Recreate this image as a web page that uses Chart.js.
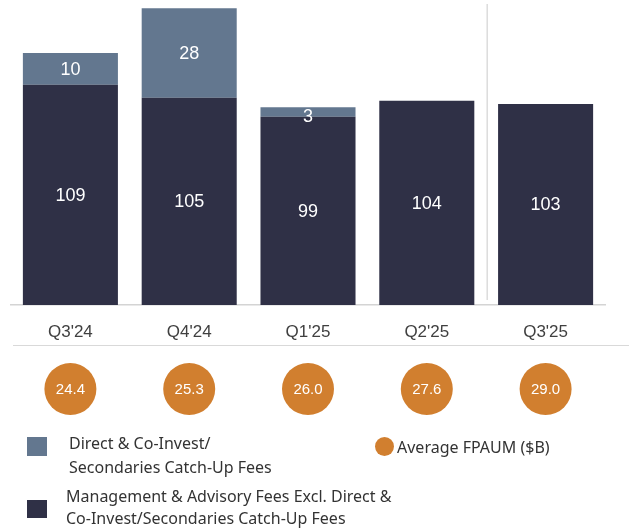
<!DOCTYPE html>
<html>
<head>
<meta charset="utf-8">
<title>Fees by quarter</title>
<script src="https://cdn.jsdelivr.net/npm/chart.js@4.4.1/dist/chart.umd.min.js"></script>
<style>
  html, body { margin: 0; padding: 0; background: #fff; }
  #wrap { position: relative; width: 629px; height: 531px; }
  #barChart { display: block; }
  .leg { position: absolute; font-family: "Noto Sans", sans-serif; font-size: 16px; color: #333; white-space: nowrap; }
  .sw { position: absolute; width: 20px; height: 19px; }
</style>
</head>
<body>
<div id="wrap">
  <canvas id="barChart" width="629" height="531"></canvas>
  <div class="sw" style="left:27px;top:437px;background:#63778f"></div>
  <div class="leg" style="left:69px;top:431px;line-height:24px">Direct &amp; Co-Invest/<br>Secondaries Catch-Up Fees</div>
  <div class="sw" style="left:375px;top:437px;width:19px;border-radius:50%;background:#d17f2f"></div>
  <div class="leg" style="left:397px;top:435px;line-height:24px">Average FPAUM ($B)</div>
  <div class="sw" style="left:27px;top:500px;height:18px;background:#2f3046"></div>
  <div class="leg" style="left:66px;top:485px;line-height:22px">Management &amp; Advisory Fees Excl. Direct &amp;<br>Co-Invest/Secondaries Catch-Up Fees</div>
</div>
<script>
/* data */
const quarters = ["Q3'24", "Q4'24", "Q1'25", "Q2'25", "Q3'25"];
const mgmtFees = [109, 105, 99, 104, 103];
const catchUpFees = [10, 28, 3, null, null];
const avgFpaum = [24.4, 25.3, 26.0, 27.6, 29.0];

const DARK = "#2f3046";
const LIGHT = "#63778f";
const ORANGE = "#d17f2f";

/* white numbers in the middle of each bar segment */
const valueLabels = {
    id: 'valueLabels',
    afterDatasetsDraw(chart) {
        const ctx = chart.ctx;
        const bottom = chart.chartArea.bottom;
        ctx.save();
        ctx.font = '18px "Liberation Sans", Arial, sans-serif';
        ctx.fillStyle = '#fff';
        ctx.textAlign = 'center';
        ctx.textBaseline = 'middle';
        chart.data.datasets.forEach((ds, di) => {
            chart.getDatasetMeta(di).data.forEach((bar, i) => {
                const v = ds.data[i];
                if (v == null) return;
                const p = bar.getProps(['x', 'y', 'base'], true);
                const base = Math.min(p.base, bottom);
                // thin segments: the number sits on the lower edge
                const y = Math.max((p.y + base) / 2 + 1, p.y + 10);
                ctx.fillText(v, p.x, y);
            });
        });
        ctx.restore();
    }
};

/* divider before Q3'25, line under labels and the FPAUM circles */
const extras = {
    id: 'extras',
    afterDraw(chart) {
        const ctx = chart.ctx;
        const x = chart.scales.x;
        ctx.save();

        const divX = (x.getPixelForValue(3) + x.getPixelForValue(4)) / 2 + 1;
        ctx.strokeStyle = '#dcdcdc';
        ctx.lineWidth = 1.5;
        ctx.beginPath();
        ctx.moveTo(divX, 4);
        ctx.lineTo(divX, 300);
        ctx.stroke();

        ctx.strokeStyle = '#d9d9d9';
        ctx.lineWidth = 1;
        ctx.beginPath();
        ctx.moveTo(13, 345.5);
        ctx.lineTo(629, 345.5);
        ctx.stroke();

        ctx.font = '15px "Liberation Sans", Arial, sans-serif';
        ctx.textAlign = 'center';
        ctx.textBaseline = 'middle';
        avgFpaum.forEach((v, i) => {
            const cx = x.getPixelForValue(i);
            ctx.fillStyle = ORANGE;
            ctx.beginPath();
            ctx.arc(cx, 389, 26, 0, Math.PI * 2);
            ctx.fill();
            ctx.fillStyle = '#fff';
            ctx.fillText(v.toFixed(1), cx, 390);
        });
        ctx.restore();
    }
};

const CHART = document.getElementById("barChart");
let barChart = new Chart(CHART, {
    type: 'bar',
    data: {
        labels: quarters,
        datasets: [
            {
                label: "Management & Advisory Fees Excl. Direct & Co-Invest/Secondaries Catch-Up Fees",
                data: mgmtFees,
                backgroundColor: DARK,
                borderWidth: 0,
                clip: 0,
                barPercentage: 0.8,
                categoryPercentage: 1
            },
            {
                label: "Direct & Co-Invest/Secondaries Catch-Up Fees",
                data: catchUpFees,
                backgroundColor: LIGHT,
                borderWidth: 0,
                clip: 0,
                barPercentage: 0.8,
                categoryPercentage: 1
            }
        ]
    },
    options: {
        responsive: false,
        animation: false,
        layout: { padding: { left: 11, right: 24, top: 0, bottom: 0 } },
        plugins: {
            legend: { display: false },
            tooltip: { enabled: false }
        },
        scales: {
            x: {
                stacked: true,
                grid: { display: false },
                border: { color: '#d4d4d4', width: 1.5 },
                ticks: {
                    color: '#404040',
                    padding: 9,
                    font: { family: '"Liberation Sans", Arial, sans-serif', size: 17 }
                },
                afterFit(scale) { scale.height = 226; }
            },
            y: {
                stacked: true,
                display: false,
                min: 40,
                max: 135.6
            }
        }
    },
    plugins: [valueLabels, extras]
});
</script>
</body>
</html>
